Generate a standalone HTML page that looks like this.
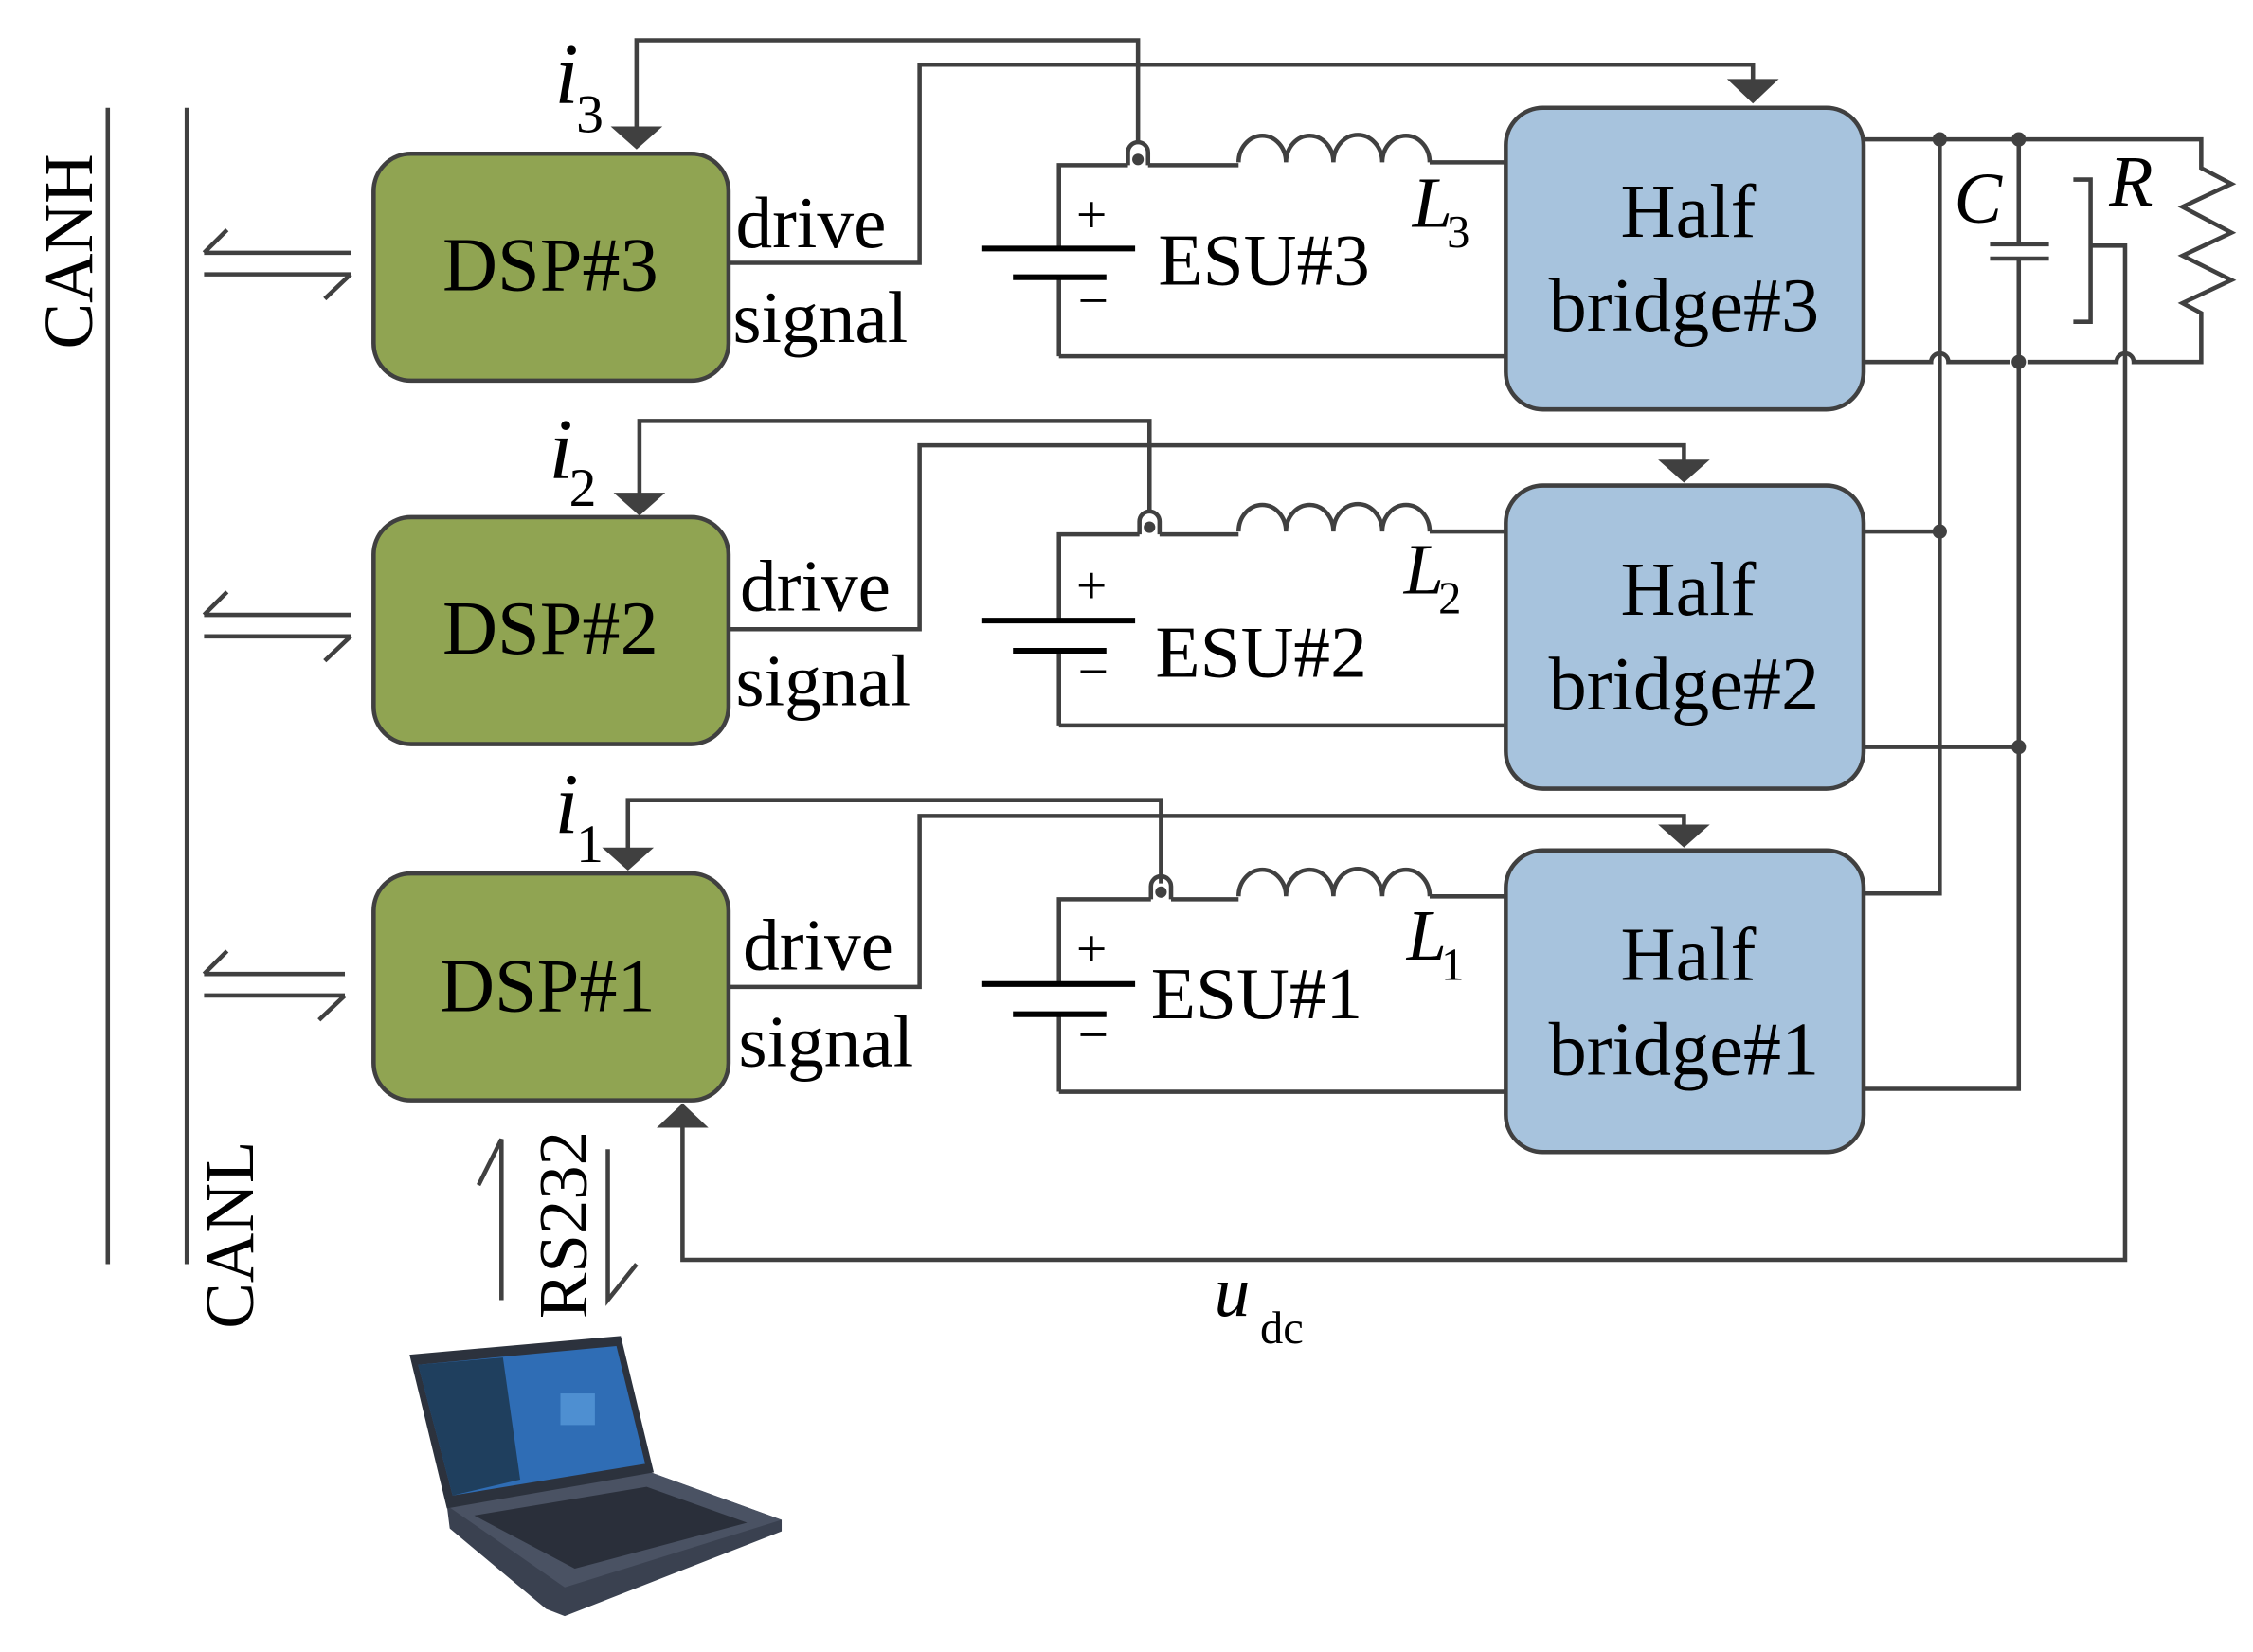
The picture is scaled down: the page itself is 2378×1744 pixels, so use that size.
<!DOCTYPE html>
<html><head><meta charset="utf-8"><style>
html,body{margin:0;padding:0;background:#fff;}
svg{display:block;}
text{font-family:"Liberation Serif",serif;fill:#000;}
</style></head><body>
<svg width="2378" height="1744" viewBox="0 0 1568 1150" xmlns="http://www.w3.org/2000/svg">
<g stroke="#404040" stroke-width="3" fill="none">
<line x1="75" y1="75" x2="75" y2="880"/>
<line x1="130" y1="75" x2="130" y2="880"/>
<path d="M142 176 H244 M158 160 L142 176"/>
<path d="M142 191 H244 M244 191 L226 208"/>
<path d="M142 428 H244 M158 412 L142 428 M142 443 H244 M244 443 L226 460"/>
<path d="M142 678 H240 M158 662 L142 678 M142 693 H240 M240 693 L222 710"/>
<rect x="260" y="107" width="247" height="158" rx="26" fill="#90a452"/>
<rect x="260" y="360" width="247" height="158" rx="26" fill="#90a452"/>
<rect x="260" y="608" width="247" height="158" rx="26" fill="#90a452"/>
<rect x="1048" y="75" width="249" height="210" rx="26" fill="#a7c3dd"/>
<rect x="1048" y="338" width="249" height="211" rx="26" fill="#a7c3dd"/>
<rect x="1048" y="592" width="249" height="210" rx="26" fill="#a7c3dd"/>

<path d="M792 100 V28 H443 V90"/>
<path d="M507 183 H640 V45 H1220 V60"/>
<path d="M737 248 V193 M737 173 V115 H785 M799 115 H862 M995 113 H1048 M737 248 H1048"/>
<path d="M785 115 V106 A7 7 0 0 1 799 106 V115"/>
<path d="M862 113 A16 18 0 0 1 895 113 A16 18 0 0 1 928 113 A16 18 0 0 1 962 113 A16 18 0 0 1 995 113"/>
<path d="M800 357 V293 H445 V345"/>
<path d="M507 438 H640 V310 H1172 V322"/>
<path d="M737 505 V453 M737 432 V372 H793 M807 372 H862 M995 370 H1048 M737 505 H1048"/>
<path d="M793 372 V363 A7 7 0 0 1 807 363 V372"/>
<path d="M862 370 A16 18 0 0 1 895 370 A16 18 0 0 1 928 370 A16 18 0 0 1 962 370 A16 18 0 0 1 995 370"/>
<path d="M808 615 V557 H437 V592"/>
<path d="M507 687 H640 V568 H1172 V578"/>
<path d="M737 760 V706 M737 685 V626 H801 M815 626 H862 M995 624 H1048 M737 760 H1048"/>
<path d="M801 626 V617 A7 7 0 0 1 815 617 V626"/>
<path d="M862 624 A16 18 0 0 1 895 624 A16 18 0 0 1 928 624 A16 18 0 0 1 962 624 A16 18 0 0 1 995 624"/>
<path d="M1297 97 H1532 V117 L1553 128 L1519 144 L1553 162 L1519 178 L1553 195 L1519 211 L1532 218 V252 H1485 A6 6 0 0 0 1473 252 H1411 M1399 252 H1356 A6 6 0 0 0 1344 252 H1297"/>
<path d="M1350 97 V622 H1297"/>
<path d="M1405 97 V170 M1405 180 V758 H1297"/>
<path d="M1385 170 H1426 M1385 180 H1426"/>
<path d="M1443 125 H1455 V224 H1443 M1455 171 H1479 V877 H475 V785"/>
<path d="M1297 370 H1350 M1297 520 H1405"/>
<path d="M349 905 V793 L333 825"/>
<path d="M423 800 V905 L443 880"/>
</g>
<g fill="#404040">
<polygon points="425,88 461,88 443,104"/>
<polygon points="1202,55 1238,55 1220,72"/>
<polygon points="427,343 463,343 445,359"/>
<polygon points="1154,320 1190,320 1172,336"/>
<polygon points="419,590 455,590 437,606"/>
<polygon points="1154,574 1190,574 1172,590"/>
<polygon points="457,785 493,785 475,768"/>
<circle cx="792" cy="111" r="4"/><circle cx="800" cy="367" r="4"/><circle cx="808" cy="621" r="4"/>
<circle cx="1350" cy="97" r="5"/><circle cx="1405" cy="97" r="5"/><circle cx="1405" cy="252" r="5"/>
<circle cx="1350" cy="370" r="5"/><circle cx="1405" cy="520" r="5"/>
</g>
<g stroke="#000" stroke-width="4">
<line x1="683" y1="173" x2="790" y2="173"/><line x1="705" y1="193" x2="770" y2="193"/>
<line x1="683" y1="432" x2="790" y2="432"/><line x1="705" y1="453" x2="770" y2="453"/>
<line x1="683" y1="685" x2="790" y2="685"/><line x1="705" y1="706" x2="770" y2="706"/>
</g>
<g font-size="38">
<text x="749" y="162">+</text><text x="750" y="222">−</text>
<text x="749" y="420">+</text><text x="750" y="480">−</text>
<text x="749" y="673">+</text><text x="750" y="733">−</text>
</g>
<g font-size="53" text-anchor="middle">
<text x="383" y="202">DSP#3</text>
<text x="383" y="455">DSP#2</text>
<text x="381" y="704">DSP#1</text>
<text x="1175" y="165">Half</text><text x="1172" y="230">bridge#3</text>
<text x="1175" y="428">Half</text><text x="1172" y="494">bridge#2</text>
<text x="1175" y="682">Half</text><text x="1172" y="748">bridge#1</text>
</g>
<g font-size="51">
<text x="806" y="198">ESU#3</text>
<text x="804" y="471">ESU#2</text>
<text x="801" y="709">ESU#1</text>
<text x="512" y="172">drive</text><text x="510" y="238">signal</text>
<text x="515" y="425">drive</text><text x="512" y="491">signal</text>
<text x="517" y="675">drive</text><text x="514" y="742">signal</text>
</g>
<g font-size="50" font-style="italic">
<text x="983" y="158">L</text><text x="977" y="413">L</text><text x="979" y="668">L</text>
<text x="1360" y="155">C</text><text x="1468" y="143">R</text>
<text x="845" y="916">u</text>
</g>
<g font-size="60" font-style="italic">
<text x="386" y="72">i</text><text x="382" y="333">i</text><text x="386" y="580">i</text>
</g>
<g font-size="32">
<text x="1007" y="172">3</text><text x="1001" y="427">2</text><text x="1003" y="682">1</text>
<text x="877" y="935">dc</text>
</g>
<g font-size="38">
<text x="401" y="92">3</text><text x="396" y="352">2</text><text x="401" y="600">1</text>
</g>
<g font-size="48">
<text transform="translate(64,243) rotate(-90)">CANH</text>
<text transform="translate(176,925) rotate(-90)">CANL</text>
<text transform="translate(408,918) rotate(-90)">RS232</text>
</g>
<polygon points="313,1064 311,1048 453,1025 544,1058 544,1066 393,1125 380,1120" fill="#3a4150"/>
<polygon points="311,1048 453,1025 544,1058 393,1105" fill="#4a5263"/>
<polygon points="330,1055 450,1035 520,1060 400,1092" fill="#2a2f3a"/>
<polygon points="285,943 432,930 455,1025 311,1050" fill="#2c323d"/>
<polygon points="291,950 429,937 449,1019 315,1041" fill="#2f6db5"/>
<polygon points="291,950 350,945 362,1030 315,1041" fill="#1f3f5e"/>
<rect x="390" y="970" width="24" height="22" fill="#4e8fd1"/>
</svg>
</body></html>
